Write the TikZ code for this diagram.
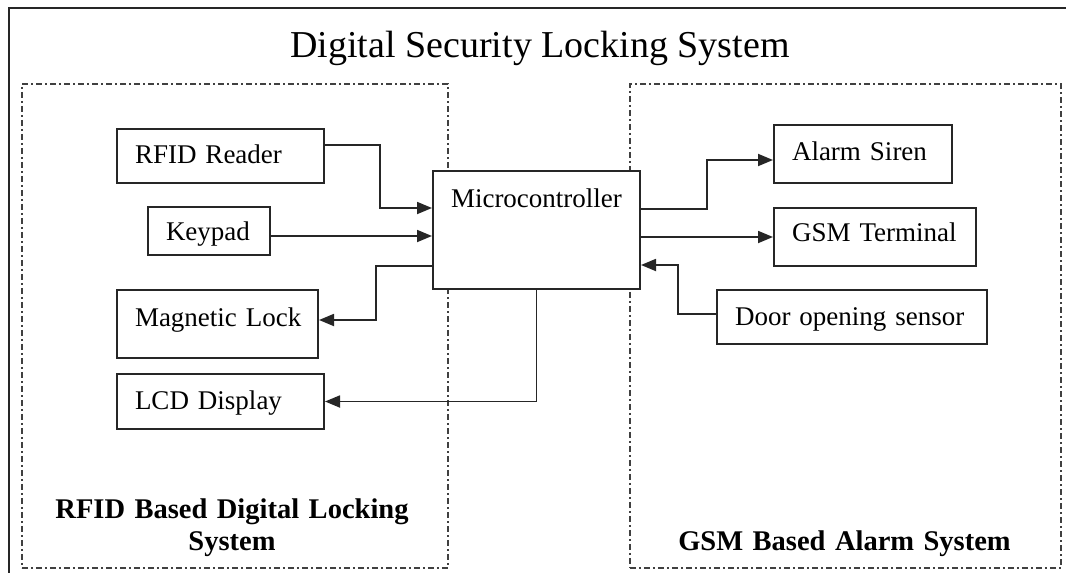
\documentclass[tikz,border=0pt]{standalone}
\usepackage{fontspec}
\setmainfont{Liberation Serif}
\usetikzlibrary{arrows.meta}
\newcommand\boxfont{\fontsize{27}{32}\selectfont}
\newcommand\titlefont{\fontsize{38}{44}\selectfont}
\newcommand\grpfont{\fontsize{28.5}{32}\selectfont\bfseries}
\tikzset{
  blk/.style={draw=black!85, line width=2pt, fill=white, anchor=north west,
    inner xsep=18pt, inner ysep=0pt, align=left, font=\boxfont},
  groupbox/.style={draw=black!75, line width=1.5pt,
    dash pattern=on 6pt off 3pt on 2pt off 3pt,
    anchor=north west, inner sep=0pt},
  conn/.style={draw=black!85, line width=1.8pt,
    -{Triangle[length=15pt,width=12pt]}},
  grplabel/.style={font=\grpfont, align=center, text width=420pt, anchor=base}
}
\begin{document}
\begin{tikzpicture}[x=1pt,y=-1pt]
  \useasboundingbox (0,0) rectangle (1066,573);
  \fill[white] (0,0) rectangle (1066,573);
  \clip (0,0) rectangle (1066,573);

  % outer frame (continues past the right and bottom edges)
  \draw[line width=2.2pt, black!85] (9,590) -- (9,8) -- (1066,8);

  % title
  \node[font=\titlefont, anchor=base] (title) at (540,57) {Digital Security Locking System};

  % subsystem groups
  \node[groupbox, minimum width=426pt, minimum height=484pt] (rfidsys) at (21,83) {};
  \node[groupbox, minimum width=431pt, minimum height=484pt] (gsmsys) at (629,83) {};
  \node[grplabel] (rfidlbl) at (232,518) {RFID Based Digital Locking\\System};
  \node[grplabel] (gsmlbl) at (844.5,550) {GSM Based Alarm System};

  % blocks
  \node[blk, text width=171pt, text height=34pt, text depth=20pt] (rfid) at (116,128) {RFID~Reader};
  \node[blk, text width=86pt, text height=33pt, text depth=15pt] (keypad) at (147,206) {Keypad};
  \node[blk, text width=165pt, text height=36pt, text depth=32pt] (mag) at (116,289) {Magnetic~Lock};
  \node[blk, text width=171pt, text height=35pt, text depth=20pt] (lcd) at (116,373) {LCD~Display};
  \node[blk, text width=171pt, text height=36pt, text depth=82pt] (mcu) at (432,170) {Microcontroller};
  \node[blk, text width=142pt, text height=35pt, text depth=23pt] (alarm) at (773,124) {Alarm~Siren};
  \node[blk, text width=166pt, text height=33pt, text depth=25pt] (gsm) at (773,207) {GSM~Terminal};
  \node[blk, text width=234pt, text height=35pt, text depth=19pt] (door) at (716,289) {Door~opening~sensor};

  % connections
  \draw[conn] ([yshift=11pt]rfid.east) -- ++(55,0) |- ([yshift=22pt]mcu.west);
  \draw[conn] ([yshift=-5pt]keypad.east) -- ([yshift=-5pt]keypad.east -| mcu.west);
  \draw[conn] ([yshift=-36pt]mcu.west) -- ++(-56,0) |- ([yshift=4pt]mag.east);
  \draw[conn] (mcu.south) |- (lcd.east);
  \draw[conn] ([yshift=21pt]mcu.east) -- ++(66,0) |- ([yshift=-6pt]alarm.west);
  \draw[conn] (mcu.east |- gsm.west) -- (gsm.west);
  \draw[conn] ([yshift=3pt]door.west) -- ++(-38,0) |- ([yshift=-35pt]mcu.east);
\end{tikzpicture}
\end{document}
